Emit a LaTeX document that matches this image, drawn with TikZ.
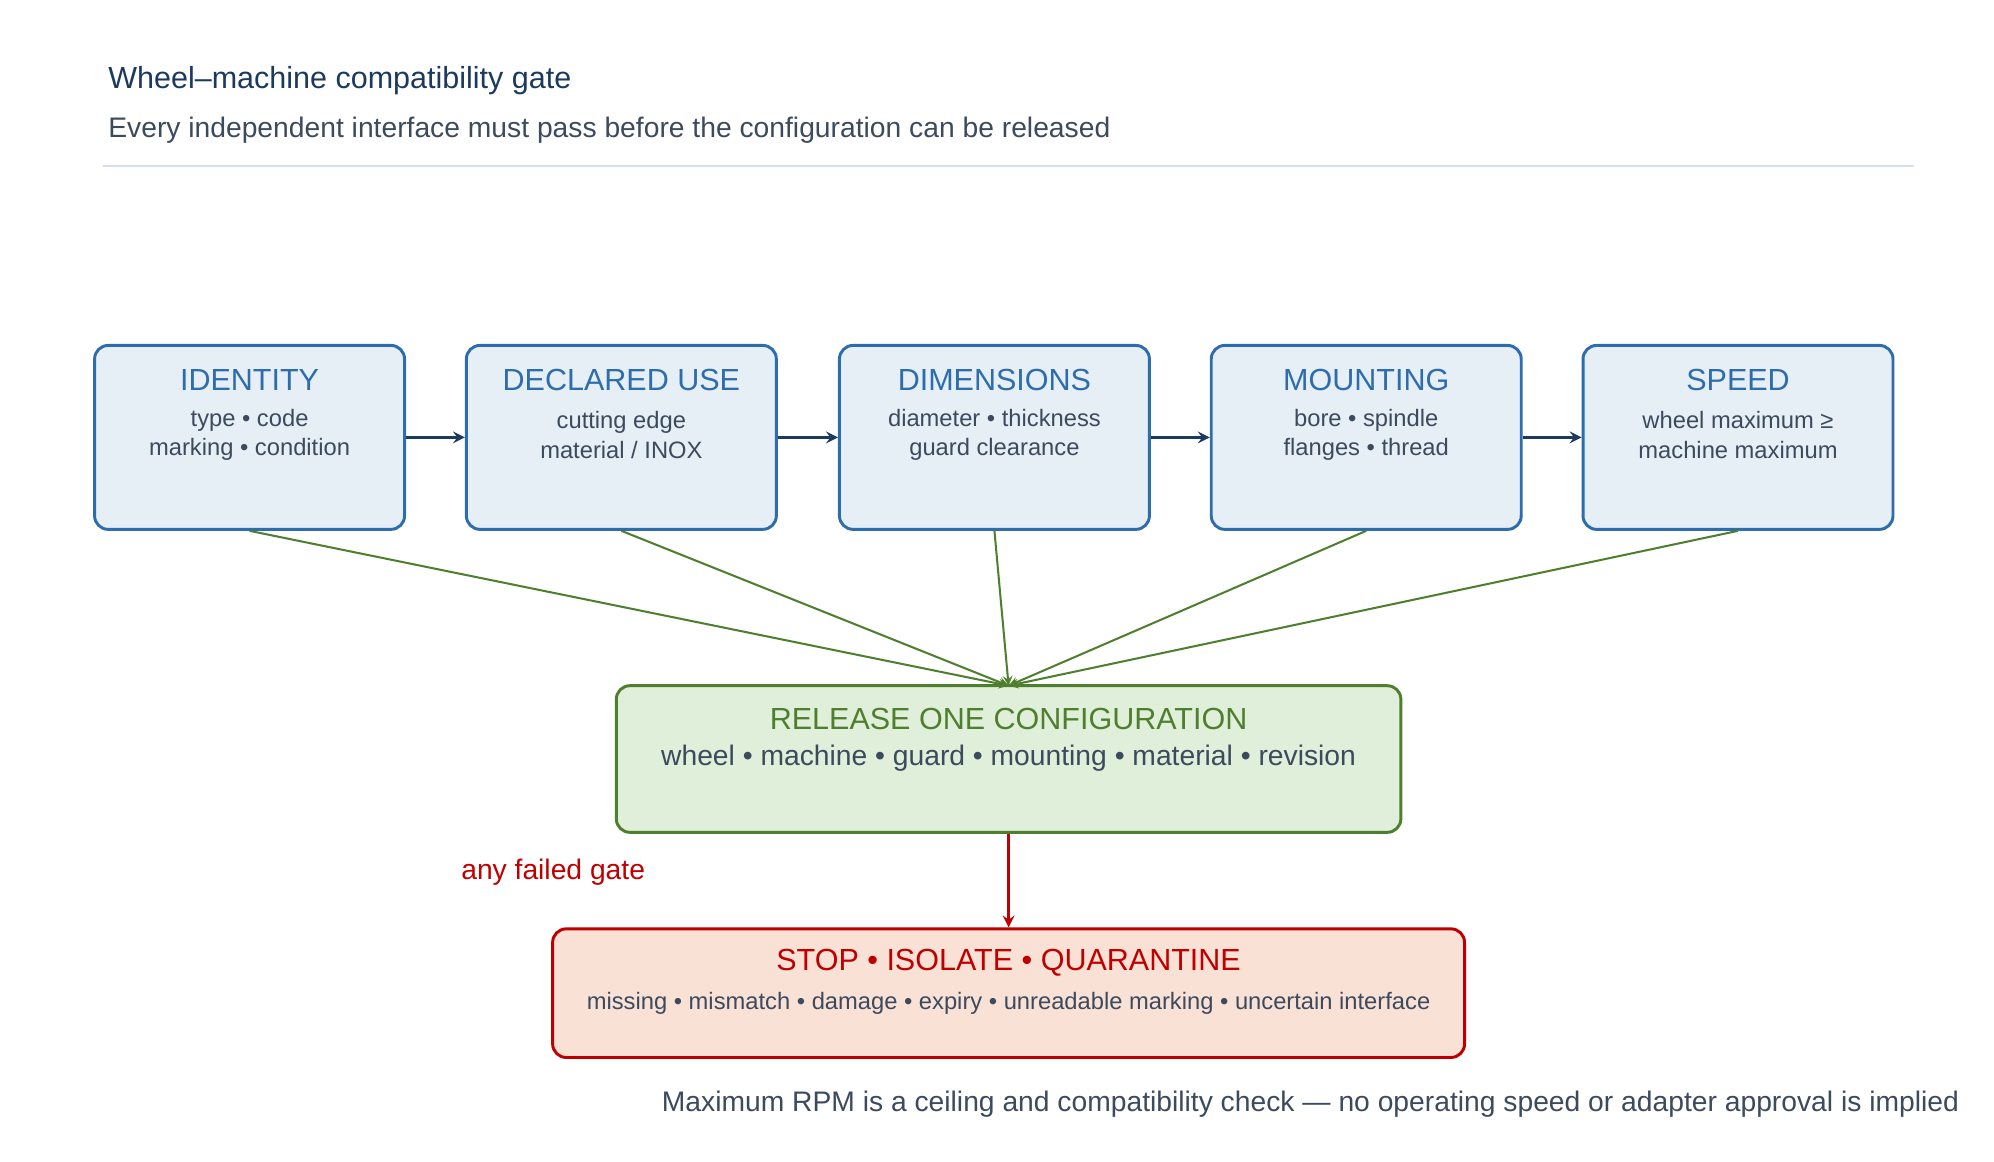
\documentclass[tikz,border=0pt]{standalone}
\usepackage{fontspec}
\setmainfont{Liberation Sans}
\usetikzlibrary{positioning, calc}
\definecolor{navy}{HTML}{1B3A5E}
\definecolor{bluedge}{HTML}{2E6DAD}
\definecolor{bluefill}{HTML}{E6EEF6}
\definecolor{greenedge}{HTML}{4E7F2E}
\definecolor{greenfill}{HTML}{E0EFD9}
\definecolor{rededge}{HTML}{C00000}
\definecolor{redfill}{HTML}{F9E1D6}
\definecolor{slate}{HTML}{3C4A5E}
\definecolor{rulecol}{HTML}{D6DDF0}
\tikzset{
	arrow/.style={line width=1.3pt, ->, >=stealth, draw=navy},
	feed/.style={line width=0.9pt, ->, >=stealth, draw=greenedge},
	gatebox/.style={draw=bluedge, fill=bluefill, line width=1.3pt, rounded corners=6pt,
		minimum width=4.82cm, minimum height=2.86cm},
	gatehead/.style={text=bluedge, font=\fontsize{13.5}{15}\selectfont},
	gatebody/.style={text=slate, align=center, font=\fontsize{10.5}{13}\selectfont},
}
\begin{document}
\begin{tikzpicture}[x=0.02cm, y=-0.02cm]
	\useasboundingbox (0,0) rectangle (1550,903);
	% header
	\node[anchor=west, text=navy, font=\fontsize{13.5}{16}\selectfont] (title) at (78,63) {Wheel–machine compatibility gate};
	\node[anchor=west, text=slate, font=\fontsize{12.5}{15}\selectfont] (sub) at (78,101) {Every independent interface must pass before the configuration can be released};
	\draw[rulecol, line width=0.8pt] (80,129) -- (1488,129);

	% the five gates
	\node[gatebox] (identity) at (194,340) {};
	\node[gatebox] (use) at (483,340) {};
	\node[gatebox] (dim) at (773,340) {};
	\node[gatebox] (mount) at (1062,340) {};
	\node[gatebox] (speed) at (1351,340) {};

	\node[gatehead] at (194,295) {IDENTITY};
	\node[gatebody] at (194,338) {type • code\\marking • condition};
	\node[gatehead] at (483,295) {DECLARED USE};
	\node[gatebody] at (483,338) {cutting edge\\material / INOX};
	\node[gatehead] at (773,295) {DIMENSIONS};
	\node[gatebody] at (773,338) {diameter • thickness\\guard clearance};
	\node[gatehead] at (1062,295) {MOUNTING};
	\node[gatebody] at (1062,338) {bore • spindle\\flanges • thread};
	\node[gatehead] at (1351,295) {SPEED};
	\node[gatebody] at (1351,338) {wheel maximum ≥\\machine maximum};

	\draw[arrow] (identity) -- (use);
	\draw[arrow] (use) -- (dim);
	\draw[arrow] (dim) -- (mount);
	\draw[arrow] (mount) -- (speed);

	% release
	\node[draw=greenedge, fill=greenfill, line width=1.3pt, rounded corners=6pt,
		minimum width=12.2cm, minimum height=2.28cm] (release) at (784,590) {};
	\node[text=greenedge, font=\fontsize{13.5}{15}\selectfont] at (784,559) {RELEASE ONE CONFIGURATION};
	\node[text=slate, font=\fontsize{12.5}{15}\selectfont] at (784,589) {wheel • machine • guard • mounting • material • revision};
	\coordinate (join) at (784,533);

	\foreach \g in {identity, use, dim, mount, speed}
		\draw[feed] (\g.south) -- (join);

	% stop
	\node[draw=rededge, fill=redfill, line width=1.3pt, rounded corners=6pt,
		minimum width=14.18cm, minimum height=2cm] (stop) at (784,772) {};
	\node[text=rededge, font=\fontsize{13.5}{15}\selectfont] at (784,748) {STOP • ISOLATE • QUARANTINE};
	\node[text=slate, font=\fontsize{10.5}{13}\selectfont] at (784,780) {missing • mismatch • damage • expiry • unreadable marking • uncertain interface};

	\draw[line width=1.3pt, ->, >=stealth, draw=rededge] (release) -- (stop);
	\node[text=rededge, font=\fontsize{12.5}{15}\selectfont] (fail) at (430,678) {any failed gate};

	% footnote
	\node[anchor=east, text=slate, font=\fontsize{12.5}{15}\selectfont] (note) at (1529,858) {Maximum RPM is a ceiling and compatibility check — no operating speed or adapter approval is implied};
\end{tikzpicture}
\end{document}
